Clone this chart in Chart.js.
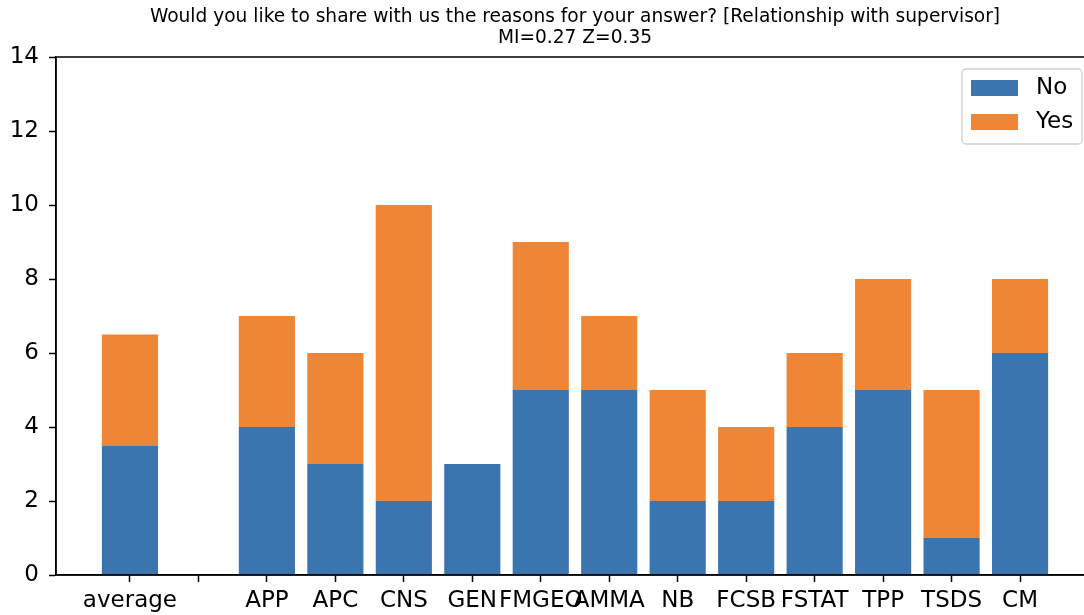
<!DOCTYPE html>
<html>
<head>
<meta charset="utf-8">
<script src="https://cdn.jsdelivr.net/npm/chart.js@4.4.0/dist/chart.umd.min.js"></script>
<style>
    html, body { margin: 0; padding: 0; overflow: hidden; background: #fff; }
    #wrap { width: 1110px; height: 615px; }
</style>
</head>
<body>
<div id="wrap"><canvas id="barChart"></canvas></div>
<script>
// Chart data
const categories = ['average', '', 'APP', 'APC', 'CNS', 'GEN', 'FMGEO', 'AMMA', 'NB', 'FCSB', 'FSTAT', 'TPP', 'TSDS', 'CM'];
const noValues = [3.5, 0, 4, 3, 2, 3, 5, 5, 2, 2, 4, 5, 1, 6];
const yesValues = [3, 0, 3, 3, 8, 0, 4, 2, 3, 2, 2, 3, 4, 2];
const yTicks = [0, 2, 4, 6, 8, 10, 12, 14];
const titleLines = ['Would you like to share with us the reasons for your answer? [Relationship with supervisor]', 'MI=0.27 Z=0.35'];

const blue = '#3b75af';
const orange = '#ef8636';
const font = "'DejaVu Sans', sans-serif";

function toPoints(values) {
    return values.map(function(v, i) { return { x: i, y: v }; });
}

// frame, title and legend drawn like the matplotlib original
const decorPlugin = {
    id: 'decor',
    afterDatasetsDraw: function(chart) {
        const a = chart.chartArea;
        const ctx = chart.ctx;
        ctx.save();
        ctx.strokeStyle = '#000';
        ctx.lineWidth = 1.5;
        ctx.strokeRect(a.left, a.top, a.right - a.left, a.bottom - a.top);
        ctx.restore();
    },
    afterDraw: function(chart) {
        const a = chart.chartArea;
        const ctx = chart.ctx;
        ctx.save();
        // title
        ctx.fillStyle = '#000';
        ctx.font = '18.6px ' + font;
        ctx.textAlign = 'center';
        ctx.textBaseline = 'middle';
        const cx = (a.left + a.right) / 2;
        ctx.fillText(titleLines[0], cx, 17);
        ctx.fillText(titleLines[1], cx, 38);

        // legend
        const w = 120, h = 75;
        const x = a.right - 12 - w, y = a.top + 12;
        ctx.fillStyle = 'rgba(255,255,255,0.8)';
        ctx.strokeStyle = '#d0d0d0';
        ctx.lineWidth = 1.3;
        ctx.beginPath();
        ctx.roundRect(x, y, w, h, 4);
        ctx.fill();
        ctx.stroke();
        const items = chart.data.datasets;
        ctx.font = '23px ' + font;
        ctx.textAlign = 'left';
        items.forEach(function(ds, i) {
            const py = y + 11 + i * 34;
            ctx.fillStyle = ds.backgroundColor;
            ctx.fillRect(x + 9, py, 47, 16);
            ctx.fillStyle = '#000';
            ctx.fillText(ds.label, x + 74, py + 8);
        });
        ctx.restore();
    }
};

document.addEventListener('DOMContentLoaded', function() {
    const ctx = document.getElementById('barChart');
    new Chart(ctx.getContext('2d'), {
        type: 'bar',
        data: {
            datasets: [{
                label: 'No',
                data: toPoints(noValues),
                backgroundColor: blue,
                borderWidth: 0
            }, {
                label: 'Yes',
                data: toPoints(yesValues),
                backgroundColor: orange,
                borderWidth: 0
            }]
        },
        options: {
            responsive: true,
            maintainAspectRatio: false,
            devicePixelRatio: 1,
            animation: false,
            layout: { padding: { top: 57, right: 16, left: 0, bottom: 0 } },
            datasets: { bar: { categoryPercentage: 1, barPercentage: 0.82 } },
            plugins: {
                legend: { display: false },
                title: { display: false },
                tooltip: { enabled: false }
            },
            scales: {
                x: {
                    type: 'linear',
                    stacked: true,
                    offset: false,
                    min: -1.08,
                    max: 14.08,
                    afterBuildTicks: function(scale) {
                        scale.ticks = categories.map(function(_, i) { return { value: i }; });
                    },
                    afterFit: function(scale) { scale.height = 40; },
                    ticks: {
                        autoSkip: false,
                        maxRotation: 0,
                        padding: 5,
                        color: '#000',
                        font: { family: font, size: 23 },
                        callback: function(v) { return categories[v]; }
                    },
                    grid: { offset: false, drawOnChartArea: false, drawTicks: true, tickLength: 7, tickWidth: 1.5, color: '#000' },
                    border: { color: '#000', width: 1.5 }
                },
                y: {
                    stacked: true,
                    min: 0,
                    max: 14,
                    afterBuildTicks: function(scale) {
                        scale.ticks = yTicks.map(function(v) { return { value: v }; });
                    },
                    afterFit: function(scale) { scale.width = 56; },
                    ticks: {
                        padding: 10,
                        color: '#000',
                        font: { family: font, size: 23 }
                    },
                    grid: { drawOnChartArea: false, drawTicks: true, tickLength: 7, tickWidth: 1.5, color: '#000' },
                    border: { color: '#000', width: 1.5 }
                }
            }
        },
        plugins: [decorPlugin]
    });
});
</script>
</body>
</html>
